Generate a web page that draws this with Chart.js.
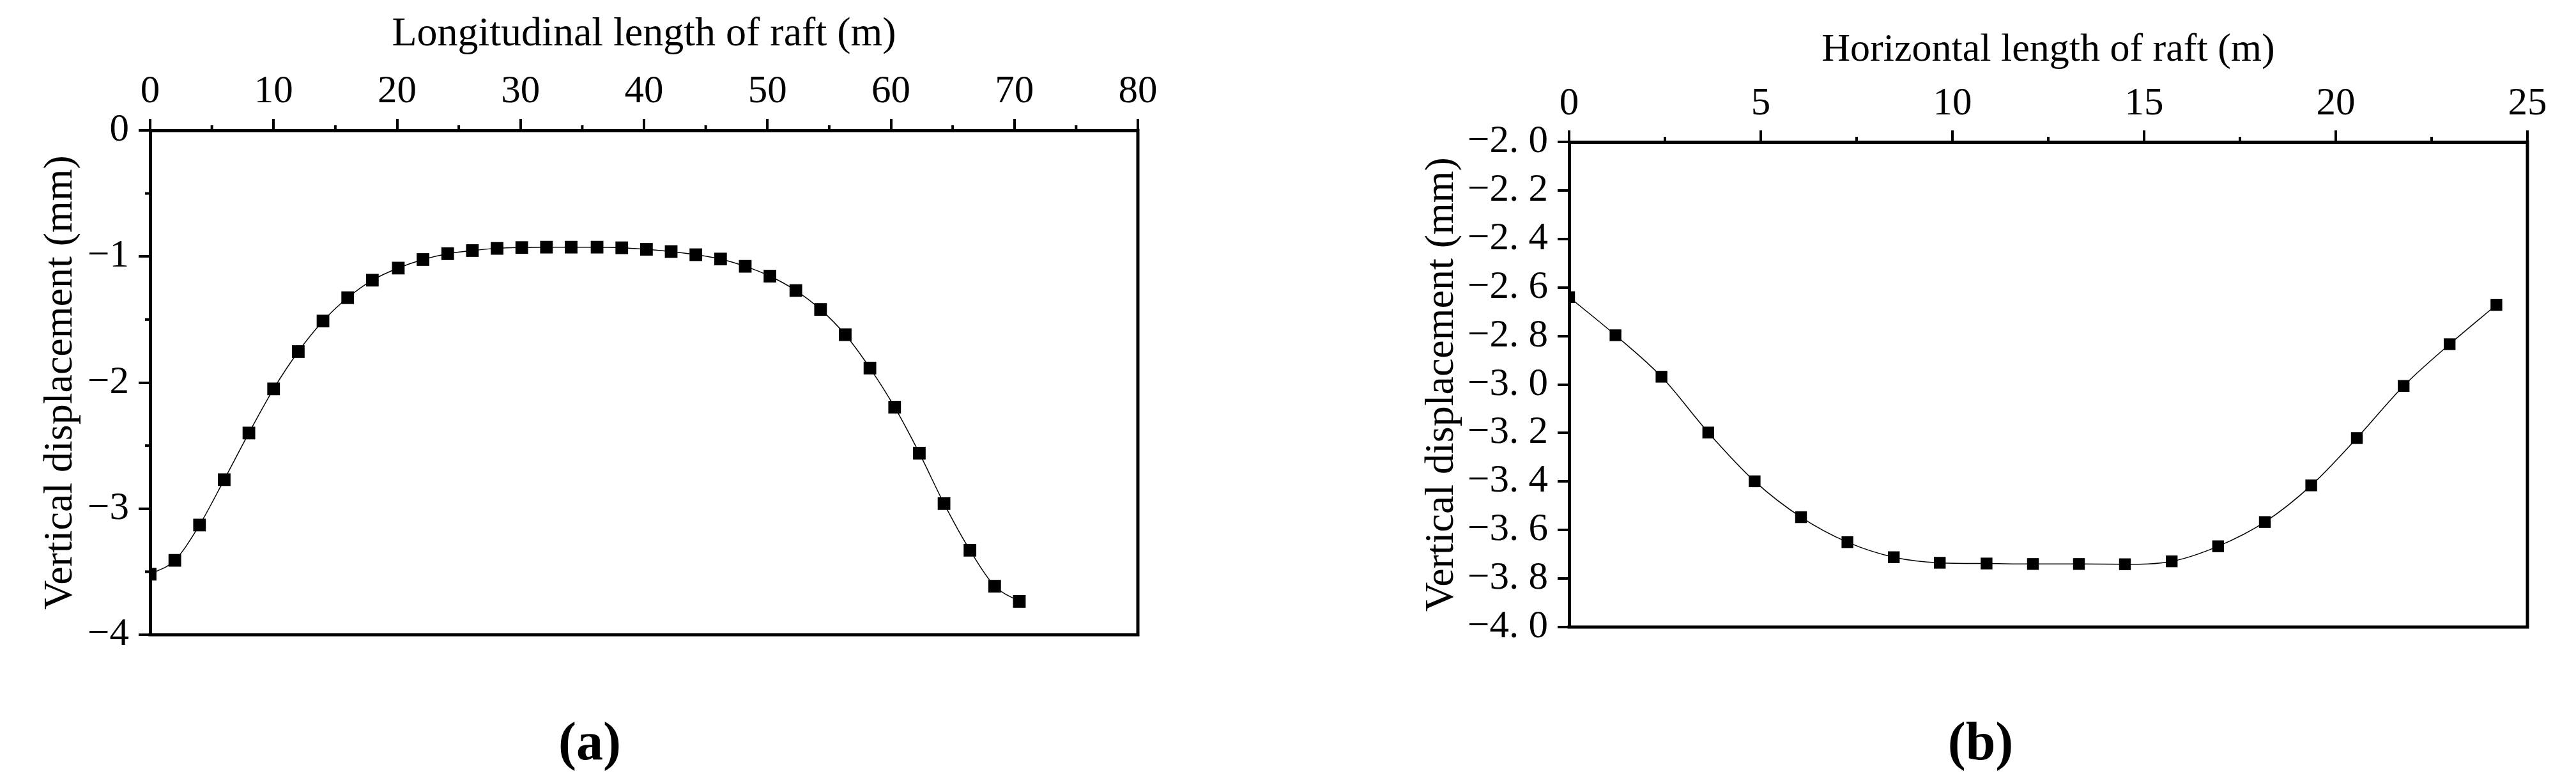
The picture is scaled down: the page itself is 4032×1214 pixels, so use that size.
<!DOCTYPE html>
<html><head><meta charset="utf-8">
<script src="https://cdn.jsdelivr.net/npm/chart.js@4.4.1/dist/chart.umd.min.js"></script>
<style>
html,body{margin:0;padding:0;background:#fff;}
#wrap{position:relative;width:4032px;height:1214px;overflow:hidden;background:#fff;}
canvas{position:absolute;top:0;}
.cap{position:absolute;top:1160px;font-family:"Liberation Serif";font-weight:bold;font-size:84px;line-height:1;transform:translate(-50%,-50%);white-space:nowrap;color:#000;}
</style></head>
<body><div id="wrap">
<canvas id="ca" width="2016" height="1214" style="left:0px;width:2016px;height:1214px"></canvas>
<canvas id="cb" width="2016" height="1214" style="left:2016px;width:2016px;height:1214px"></canvas>
<div class="cap" style="left:923px">(a)</div>
<div class="cap" style="left:3100px">(b)</div>
</div>
<script>
// ---- Chart (a) data ----
const aTitleX = 'Longitudinal length of raft (m)';
const aTitleY = 'Vertical displacement (mm)';
const aX = [0, 2.0, 4.0, 6.0, 8.0, 10.0, 12.0, 14.0, 16.0, 18.0, 20.1, 22.1, 24.1, 26.1, 28.1, 30.1, 32.1, 34.1, 36.2, 38.2, 40.2, 42.2, 44.2, 46.2, 48.2, 50.2, 52.3, 54.3, 56.3, 58.3, 60.3, 62.3, 64.3, 66.4, 68.4, 70.4];
const aY = [-3.52, -3.41, -3.13, -2.77, -2.40, -2.05, -1.754, -1.512, -1.327, -1.188, -1.092, -1.024, -0.978, -0.953, -0.936, -0.929, -0.926, -0.926, -0.926, -0.931, -0.943, -0.961, -0.986, -1.02, -1.078, -1.156, -1.27, -1.42, -1.62, -1.885, -2.195, -2.56, -2.96, -3.33, -3.615, -3.736];
const aMinorX = [5, 15, 25, 35, 45, 55, 65, 75];
const aMinorY = [-0.5, -1.5, -2.5, -3.5];

// ---- Chart (b) data ----
const bTitleX = 'Horizontal length of raft (m)';
const bTitleY = 'Vertical displacement (mm)';
const bX = [0, 1.21, 2.41, 3.63, 4.84, 6.05, 7.26, 8.47, 9.67, 10.89, 12.1, 13.3, 14.5, 15.72, 16.93, 18.15, 19.36, 20.55, 21.77, 22.97, 24.19];
const bY = [-2.64, -2.797, -2.968, -3.198, -3.399, -3.547, -3.65, -3.712, -3.735, -3.738, -3.74, -3.74, -3.741, -3.729, -3.667, -3.567, -3.416, -3.221, -3.006, -2.834, -2.672];
const bMinorX = [2.5, 7.5, 12.5, 17.5, 22.5];

const FONT = 'Liberation Serif';
const TICK_SIZE = 61;

const framePlugin = {
  id: 'frame',
  afterDraw(chart, args, o) {
    const {ctx, chartArea: a, scales} = chart;
    ctx.save();
    ctx.strokeStyle = '#000';
    ctx.lineWidth = 4;
    ctx.lineCap = 'butt';
    (o.xMinor || []).forEach(v => {
      const px = scales.x.getPixelForValue(v);
      ctx.beginPath(); ctx.moveTo(px, a.top); ctx.lineTo(px, a.top - o.minorLen); ctx.stroke();
    });
    (o.yMinor || []).forEach(v => {
      const py = scales.y.getPixelForValue(v);
      ctx.beginPath(); ctx.moveTo(a.left, py); ctx.lineTo(a.left - o.minorLen, py); ctx.stroke();
    });
    ctx.lineWidth = 5;
    ctx.lineCap = 'square';
    ctx.beginPath();
    ctx.moveTo(a.left, a.bottom); ctx.lineTo(a.right, a.bottom); ctx.lineTo(a.right, a.top);
    ctx.stroke();
    ctx.restore();
  }
};

function makeChart(id, xs, ys, cfg) {
  const pts = xs.map((x, i) => ({x: x, y: ys[i]}));
  return new Chart(document.getElementById(id), {
    type: 'line',
    data: { datasets: [{
      data: pts,
      borderColor: '#000',
      borderWidth: 1.5,
      backgroundColor: '#000',
      pointBackgroundColor: '#000',
      pointBorderColor: '#000',
      pointBorderWidth: 0,
      pointStyle: 'rect',
      pointRadius: cfg.pointRadius,
      cubicInterpolationMode: 'monotone',
      fill: false
    }]},
    options: {
      responsive: false,
      animation: false,
      devicePixelRatio: 1,
      layout: { padding: cfg.padding },
      plugins: {
        legend: {display: false},
        title: {display: false},
        tooltip: {enabled: false},
        frame: {xMinor: cfg.xMinor, yMinor: cfg.yMinor, minorLen: 8}
      },
      scales: {
        x: {
          type: 'linear', position: 'top',
          min: cfg.xMin, max: cfg.xMax,
          afterFit: s => { s.height = cfg.xHeight; },
          grid: {drawOnChartArea: false, drawTicks: true, tickLength: 18, color: '#000', lineWidth: 4},
          border: {display: true, color: '#000', width: 5, z: 1},
          ticks: {stepSize: cfg.xStep, autoSkip: false, maxRotation: 0, color: '#000', padding: cfg.xTickPad,
                  font: {family: FONT, size: TICK_SIZE}, callback: v => String(v)},
          title: {display: true, text: cfg.titleX, color: '#000',
                  font: {family: FONT, size: cfg.titleXSize}, padding: {top: cfg.titleXPad, bottom: 0}}
        },
        y: {
          type: 'linear', position: 'left',
          min: cfg.yMin, max: cfg.yMax,
          afterFit: s => { s.width = cfg.yWidth; },
          grid: {drawOnChartArea: false, drawTicks: true, tickLength: 18, color: '#000', lineWidth: 4},
          border: {display: true, color: '#000', width: 5, z: 1},
          ticks: {stepSize: cfg.yStep, autoSkip: false, color: '#000', padding: 15,
                  font: {family: FONT, size: TICK_SIZE}, callback: cfg.yFmt},
          title: {display: true, text: cfg.titleY, color: '#000',
                  font: {family: FONT, size: 64}, padding: {top: cfg.titleYPad, bottom: 0}}
        }
      }
    },
    plugins: [framePlugin]
  });
}

makeChart('ca', aX, aY, {
  titleX: aTitleX, titleY: aTitleY, titleXSize: 64, titleXPad: 16, titleYPad: 57,
  padding: {left: 0, top: 0, right: 235, bottom: 221},
  xHeight: 204, yWidth: 235, xTickPad: 5,
  xMin: 0, xMax: 80, xStep: 10, yMin: -4, yMax: 0, yStep: 1,
  xMinor: aMinorX, yMinor: aMinorY, pointRadius: 14,
  yFmt: v => v === 0 ? '0' : '\u2212' + Math.abs(v)
});

makeChart('cb', bX, bY, {
  titleX: bTitleX, titleY: bTitleY, titleXSize: 62, titleXPad: 42, titleYPad: 203,
  padding: {left: 0, top: 0, right: 76, bottom: 233},
  xHeight: 222, yWidth: 440, xTickPad: 4,
  xMin: 0, xMax: 25, xStep: 5, yMin: -4, yMax: -2, yStep: 0.2,
  xMinor: bMinorX, yMinor: [], pointRadius: 13,
  yFmt: v => (v < 0 ? '\u2212' : '') + Math.abs(v).toFixed(1).replace('.', '. ')
});
</script>
</body></html>
